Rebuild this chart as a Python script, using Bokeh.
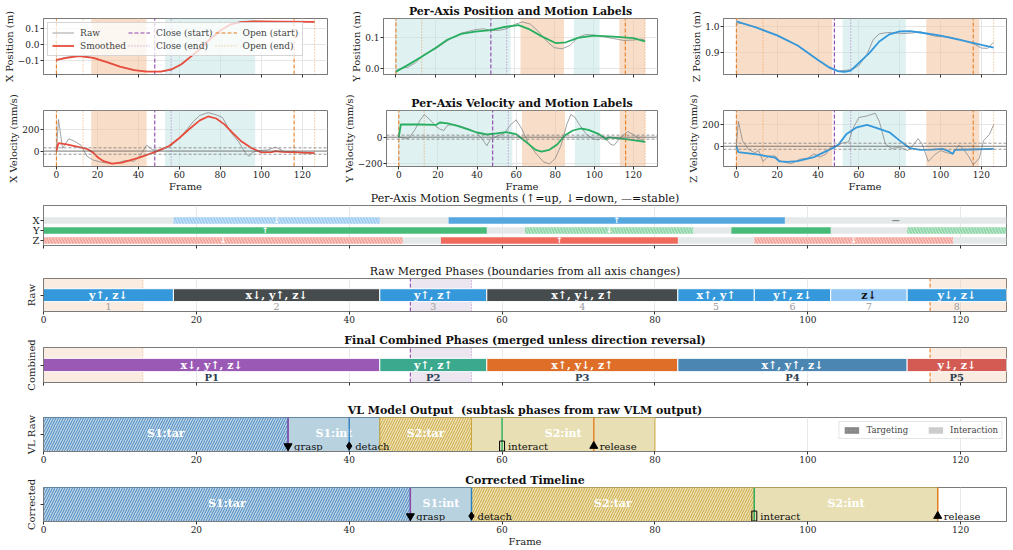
from bokeh.plotting import figure
from bokeh.layouts import column, row
from bokeh.models import (BoxAnnotation, Span, Legend, LegendItem, FixedTicker,
                          Range1d, ColumnDataSource, CustomJSTickFormatter)
from bokeh.core.properties import value
from bokeh.embed import file_html
from bokeh.resources import INLINE

FONT = "DejaVu Serif"

# ---------------- gripper events ----------------
EVENT_KIND = ["open", "close", "open"]
EVENT_START = [0, 48, 116]
EVENT_END = [13, 56, 126]

# ---------------- position traces ----------------
XPOS_SM_F = [0, 5, 11, 18, 25, 31, 38, 44, 51, 56, 61, 65, 70, 75, 80, 85, 90, 97, 111, 126]
XPOS_SM = [-0.098, -0.085, -0.074, -0.085, -0.113, -0.140, -0.162, -0.172, -0.172, -0.158,
           -0.125, -0.083, -0.030, 0.034, 0.089, 0.127, 0.142, 0.147, 0.145, 0.143]
XPOS_RAW_F = [0, 1, 4, 8, 12, 16, 20, 26, 32, 38, 44, 48, 52, 56, 60, 65, 70, 75, 80, 85, 90,
              96, 104, 112, 120, 126]
XPOS_RAW = [-0.100, -0.096, -0.082, -0.075, -0.071, -0.078, -0.092, -0.117, -0.145, -0.163,
            -0.170, -0.171, -0.170, -0.162, -0.135, -0.082, -0.026, 0.038, 0.092, 0.128, 0.144,
            0.148, 0.146, 0.145, 0.144, 0.143]

YPOS_SM_F = [0, 7, 13, 20, 26, 33, 40, 48, 54, 62, 67, 74, 81, 86, 92, 100, 110, 120, 126]
YPOS_SM = [-0.009, 0.016, 0.039, 0.067, 0.093, 0.112, 0.119, 0.124, 0.133, 0.140, 0.128, 0.103,
           0.082, 0.085, 0.099, 0.106, 0.103, 0.098, 0.088]
YPOS_RAW_F = [0, 3, 6, 10, 14, 20, 26, 33, 40, 44, 48, 52, 56, 60, 64, 68, 72, 76, 80, 84, 88,
              92, 96, 100, 105, 110, 115, 120, 124, 126]
YPOS_RAW = [-0.005, 0.003, 0.005, 0.020, 0.045, 0.064, 0.090, 0.114, 0.125, 0.128, 0.123, 0.123,
            0.128, 0.142, 0.150, 0.143, 0.120, 0.090, 0.068, 0.064, 0.075, 0.100, 0.110, 0.108,
            0.103, 0.097, 0.091, 0.092, 0.095, 0.092]

ZPOS_SM_F = [0, 10, 20, 30, 40, 45, 50, 53, 56, 60, 65, 70, 75, 80, 85, 90, 100, 110, 120, 126]
ZPOS_SM = [1.019, 0.995, 0.966, 0.928, 0.873, 0.847, 0.830, 0.828, 0.833, 0.862, 0.898, 0.943,
           0.970, 0.981, 0.982, 0.977, 0.965, 0.948, 0.930, 0.920]
ZPOS_RAW_F = [0, 1, 4, 10, 20, 30, 40, 46, 50, 54, 57, 60, 64, 67, 70, 74, 78, 82, 86, 90, 94,
              98, 104, 110, 116, 120, 123, 126]
ZPOS_RAW = [1.005, 1.012, 1.010, 0.997, 0.965, 0.927, 0.872, 0.840, 0.832, 0.834, 0.838, 0.852,
            0.895, 0.950, 0.972, 0.977, 0.975, 0.973, 0.975, 0.980, 0.970, 0.962, 0.960, 0.950,
            0.935, 0.918, 0.917, 0.940]

# ---------------- velocity traces (mm/s) ----------------
XVEL_SM_F = [0, 1, 5, 10, 15, 18, 20, 23, 27, 32, 40, 48, 55, 60, 65, 70, 74, 78, 82, 86, 90,
             95, 100, 105, 107, 110, 118, 126]
XVEL_SM = [0, 75, 62, 42, 20, -15, -55, -95, -118, -108, -65, -10, 47, 122, 209, 287, 324, 305,
           250, 170, 95, 30, -12, -10, 0, -8, -12, -20]
XVEL_RAW_F = [0, 1, 3, 6, 9, 12, 15, 18, 22, 28, 34, 38, 41, 44, 47, 51, 56, 60, 64, 67, 70, 74,
              78, 81, 85, 89, 92, 94, 96, 99, 103, 107, 111, 116, 121, 126]
XVEL_RAW = [0, 295, 25, 115, 90, 55, -50, -85, -105, -119, -88, -95, -40, 55, 12, 6, 50, 120,
            210, 280, 334, 360, 340, 315, 178, 84, -10, -50, -10, 5, 10, 37, -3, -10, -20, -20]

YVEL_SM_F = [0, 1, 10, 19, 21, 25, 30, 35, 40, 45, 50, 55, 60, 65, 70, 73, 77, 81, 85, 89, 93,
             97, 102, 105, 106, 107, 110, 118, 126]
YVEL_SM = [0, 95, 95, 92, 110, 103, 85, 60, 35, 20, 28, 38, 22, -35, -95, -108, -95, -55, 15,
           50, 65, 55, 25, -5, -18, -2, -5, -18, -35]
YVEL_RAW_F = [0, 2, 5, 8, 11, 13, 16, 19, 21, 23, 25, 28, 32, 36, 40, 43, 45, 47, 50, 54, 57,
              60, 63, 66, 70, 74, 77, 80, 83, 86, 88, 90, 93, 96, 99, 102, 105, 108, 110, 113,
              117, 120, 123, 126]
YVEL_RAW = [0, -5, -10, 50, 130, 170, 130, 80, 60, 50, 90, 95, 80, 60, 30, -20, -65, -10, 5, 30,
            90, 130, 60, -40, -120, -185, -200, -160, -60, 100, 170, 150, 80, 20, -10, -20, 5,
            -50, -62, -10, 42, 20, -10, -37]

ZVEL_SM_F = [0, 1, 10, 19, 21, 25, 30, 38, 44, 48, 50, 54, 59, 64, 70, 75, 80, 85, 90, 96, 101,
             104, 106, 107, 115, 126]
ZVEL_SM = [0, -55, -75, -105, -140, -145, -138, -100, -45, -10, 15, 114, 175, 197, 160, 129, 52,
           -18, -34, -31, -25, -45, -71, -34, -30, -25]
ZVEL_RAW_F = [0, 1, 3, 6, 9, 11, 13, 16, 19, 21, 24, 27, 31, 35, 38, 41, 44, 46, 49, 52, 55, 57,
              60, 64, 68, 70, 73, 76, 80, 84, 87, 89, 91, 94, 97, 100, 103, 106, 109, 111, 114,
              116, 119, 121, 124, 126]
ZVEL_RAW = [0, 230, 50, -30, -60, -40, -140, -90, -90, -130, -150, -160, -120, -110, -70, -100,
            -70, -10, 0, 30, 40, 160, 265, 280, 305, 230, 20, -20, -10, -40, 20, 70, 20, -140,
            -80, -40, -60, -70, 10, -20, -100, -170, -110, 50, 110, 200]

VEL_THRESH = [30, 15, 28]

# ---------------- per-axis motion segments ----------------
X_SEG_START = [0, 17, 44, 53, 97]
X_SEG_END = [17, 44, 53, 97, 126]
X_SEG_DIR = ["stable", "down", "stable", "up", "stable"]
Y_SEG_START = [0, 58, 63, 85, 90, 103, 113]
Y_SEG_END = [58, 63, 85, 90, 103, 113, 126]
Y_SEG_DIR = ["up", "stable", "down", "stable", "up", "stable", "down"]
Z_SEG_START = [0, 47, 52, 83, 93, 119]
Z_SEG_END = [47, 52, 83, 93, 119, 126]
Z_SEG_DIR = ["down", "stable", "up", "stable", "down", "stable"]
MIN_LABEL_LEN = 20

# ---------------- merged phases ----------------
RAW_START = [0, 17, 44, 58, 83, 93, 103, 113]
RAW_END = [17, 44, 58, 83, 93, 103, 113, 126]
RAW_LABEL = ["y↑, z↓", "x↓, y↑, z↓", "y↑, z↑", "x↑, y↓, z↑", "x↑, y↑", "y↑, z↓", "z↓", "y↓, z↓"]

FIN_START = [0, 44, 58, 83, 113]
FIN_END = [44, 58, 83, 113, 126]
FIN_LABEL = ["x↓, y↑, z↓", "y↑, z↑", "x↑, y↓, z↑", "x↑, y↑, z↓", "y↓, z↓"]
FIN_NAME = ["P1", "P2", "P3", "P4", "P5"]
FIN_COLOR = ["#9b59b6", "#3aa98e", "#de6e28", "#4a86b1", "#d45b53"]

# ---------------- VLM subtask phases ----------------
VL_START = [0, 32, 44, 56]
VL_END = [32, 44, 56, 80]
VL_LABEL = ["S1:tar", "S1:int", "S2:tar", "S2:int"]
VL_EVENT_F = [32, 40, 60, 72]
COR_START = [0, 48, 56, 93]
COR_END = [48, 56, 93, 117]
COR_EVENT_F = [48, 56, 93, 117]
EVENT_NAMES = ["grasp", "detach", "interact", "release"]

# ---------------- styling ----------------
OPEN_C = "#e67e22"
CLOSE_C = "#8e44ad"
UP_SHADE = "#bfe3e1"
DOWN_SHADE = "#f3c19a"
AX_C = "#7a7a7a"
FRAME_TICKS = [0, 20, 40, 60, 80, 100, 120]


def base_fig(width, height, xr, yr, left, right, top, bottom, title=None):
    p = figure(width=width, height=height, x_range=Range1d(*xr), y_range=Range1d(*yr),
               min_border_left=left, min_border_right=right, min_border_top=top,
               min_border_bottom=bottom, title=title, output_backend="svg",
               toolbar_location=None)
    p.outline_line_color = AX_C
    p.outline_line_width = 1
    for ax in p.axis:
        ax.axis_line_color = AX_C
        ax.major_tick_line_color = "#333333"
        ax.minor_tick_line_color = None
        ax.major_tick_out = 3
        ax.major_tick_in = 0
        ax.major_label_standoff = 1
        ax.axis_label_standoff = 0
        ax.major_label_text_font = FONT
        ax.major_label_text_font_size = "9px"
        ax.major_label_text_color = "#222222"
        ax.axis_label_text_font = FONT
        ax.axis_label_text_font_size = "10px"
        ax.axis_label_text_font_style = "normal"
        ax.axis_label_text_color = "#222222"
    p.xaxis.ticker = FixedTicker(ticks=FRAME_TICKS)
    p.xgrid.grid_line_color = "#e6e6e6"
    p.ygrid.grid_line_color = "#e6e6e6"
    if title:
        p.title.text_font = FONT
        p.title.text_font_size = "11px"
        p.title.text_color = "#111111"
        p.title.align = "center"
        p.title.standoff = 2
    return p


def hide_labels(axis):
    axis.major_label_text_color = None


def event_lines(p, y0, y1):
    rends = {}
    for kind, color in (("close", CLOSE_C), ("open", OPEN_C)):
        xs = [s for k, s in zip(EVENT_KIND, EVENT_START) if k == kind]
        xe = [e for k, e in zip(EVENT_KIND, EVENT_END) if k == kind]
        rends[(kind, "start")] = p.segment(x0=xs, x1=xs, y0=y0, y1=y1, line_color=color,
                                           line_dash="4 2", line_width=1.1)
        rends[(kind, "end")] = p.segment(x0=xe, x1=xe, y0=y0, y1=y1, line_color=color,
                                         line_dash="1 2", line_width=1.1, line_alpha=0.6)
    return rends


def motion_shading(p, starts, ends, dirs):
    for s, e, d in zip(starts, ends, dirs):
        if d == "stable":
            continue
        p.add_layout(BoxAnnotation(left=s, right=e, line_color=None, level="underlay",
                                   fill_color=UP_SHADE if d == "up" else DOWN_SHADE,
                                   fill_alpha=0.5 if d == "up" else 0.55))


def yfmt(decimals):
    return CustomJSTickFormatter(
        code="return (tick < 0 ? '\\u2212' : '') + Math.abs(tick).toFixed(%d);" % decimals)


def series_panel(width, height, left, right, top, bottom, yr, ylabel, yticks, decimals, segs,
                 raw_f, raw_v, sm_f, sm_v, color, title=None, xlabels=False, thresh=None,
                 legend=False):
    p = base_fig(width, height, (-6.3, 132.3), yr, left, right, top, bottom, title)
    p.yaxis.ticker = FixedTicker(ticks=yticks)
    p.yaxis.formatter = yfmt(decimals)
    p.yaxis.axis_label = ylabel
    if xlabels:
        p.xaxis.axis_label = "Frame"
    else:
        hide_labels(p.xaxis)
    motion_shading(p, *segs)
    if thresh is not None:
        p.add_layout(Span(location=0, dimension="width", line_color="#555555",
                          line_width=0.9, line_alpha=0.8))
        for t in (thresh, -thresh):
            p.add_layout(Span(location=t, dimension="width", line_color="#888888",
                              line_width=0.9, line_dash="3 2"))
    ev = event_lines(p, yr[0], yr[1])
    r_raw = p.line(raw_f, raw_v, line_color="#8c8c8c", line_width=0.9, line_alpha=0.9)
    r_sm = p.line(sm_f, sm_v, line_color=color, line_width=1.8)
    if legend:
        items = [LegendItem(label="Raw", renderers=[r_raw]),
                 LegendItem(label="Smoothed", renderers=[r_sm]),
                 LegendItem(label="Close (start)", renderers=[ev[("close", "start")]]),
                 LegendItem(label="Close (end)", renderers=[ev[("close", "end")]]),
                 LegendItem(label="Open (start)", renderers=[ev[("open", "start")]]),
                 LegendItem(label="Open (end)", renderers=[ev[("open", "end")]])]
        lg = Legend(items=items, location="top_left", ncols=3, orientation="vertical",
                    label_text_font=FONT, label_text_font_size="9px", label_height=11,
                    glyph_height=9, glyph_width=22, spacing=2, padding=4, margin=4,
                    label_standoff=6, background_fill_alpha=0.75,
                    border_line_color="#cccccc", border_line_alpha=0.8)
        p.add_layout(lg)
    return p


X_SEGS = (X_SEG_START, X_SEG_END, X_SEG_DIR)
Y_SEGS = (Y_SEG_START, Y_SEG_END, Y_SEG_DIR)
Z_SEGS = (Z_SEG_START, Z_SEG_END, Z_SEG_DIR)

fx = series_panel(340, 92, 43, 13, 18, 18, (-0.19, 0.165), "X Position (m)", [-0.1, 0.0, 0.1],
                  1, X_SEGS, XPOS_RAW_F, XPOS_RAW, XPOS_SM_F, XPOS_SM, "#e74c3c", legend=True)
fy = series_panel(330, 92, 43, 13, 18, 18, (-0.018, 0.161), "Y Position (m)", [0.0, 0.1], 1,
                  Y_SEGS, YPOS_RAW_F, YPOS_RAW, YPOS_SM_F, YPOS_SM, "#27ae60",
                  title="Per-Axis Position and Motion Labels")
fz = series_panel(343, 92, 53, 7, 18, 18, (0.818, 1.030), "Z Position (m)", [0.9, 1.0], 1,
                  Z_SEGS, ZPOS_RAW_F, ZPOS_RAW, ZPOS_SM_F, ZPOS_SM, "#3498db")

vx = series_panel(340, 102, 43, 13, 18, 28, (-145, 380), "X Velocity (mm/s)", [0, 200], 0,
                  X_SEGS, XVEL_RAW_F, XVEL_RAW, XVEL_SM_F, XVEL_SM, "#e74c3c", xlabels=True,
                  thresh=VEL_THRESH[0])
vy = series_panel(330, 102, 43, 13, 18, 28, (-220, 200), "Y Velocity (mm/s)", [-200, 0], 0,
                  Y_SEGS, YVEL_RAW_F, YVEL_RAW, YVEL_SM_F, YVEL_SM, "#27ae60", xlabels=True,
                  thresh=VEL_THRESH[1], title="Per-Axis Velocity and Motion Labels")
vz = series_panel(343, 102, 53, 7, 18, 28, (-187, 330), "Z Velocity (mm/s)", [0, 200], 0,
                  Z_SEGS, ZVEL_RAW_F, ZVEL_RAW, ZVEL_SM_F, ZVEL_SM, "#3498db", xlabels=True,
                  thresh=VEL_THRESH[2])
for p in (fy, vy):
    p.title.text_font_style = "bold"


def wide_fig(height, yr, top, bottom, title=None, bold=False, xlabels=True):
    p = base_fig(1013, height, (0, 126), yr, 43, 7, top, bottom, title)
    p.ygrid.grid_line_color = None
    p.xgrid.grid_line_color = "#e8e8e8"
    if title:
        p.title.text_font_style = "bold" if bold else "normal"
    if not xlabels:
        hide_labels(p.xaxis)
    return p


def band_axis(p, label):
    p.yaxis.ticker = FixedTicker(ticks=[0.5])
    hide_labels(p.yaxis)
    p.yaxis.axis_label = label
    p.yaxis.axis_label_standoff = 4


# ---------------- per-axis motion segments panel ----------------
# tucked up under the velocity row; its border is transparent so nothing is hidden
seg = wide_fig(73, (-0.5, 3.5), 17, 16, "Per-Axis Motion Segments (↑=up, ↓=down, —=stable)",
               xlabels=False)
seg.margin = (-6, 0, 0, 0)
seg.border_fill_alpha = 0
seg.yaxis.ticker = FixedTicker(ticks=[0, 1, 2])
seg.yaxis.major_label_overrides = {0: "Z", 1: "Y", 2: "X"}
seg.yaxis.major_label_text_font_size = "10px"

SEG_STYLE = {
    2: ("#56a6e0", "#9fcdf1"),
    1: ("#48bb78", "#8fd6a9"),
    0: ("#ef6a5b", "#f4a59b"),
}
BAR_H = 0.32
solid = dict(l=[], r=[], b=[], t=[], c=[])
hatched = dict(l=[], r=[], b=[], t=[], c=[])
flat = dict(l=[], r=[], b=[], t=[])
arrows = dict(x=[], y=[], t=[], c=[])
for yrow, (starts, ends, dirs) in ((2, X_SEGS), (1, Y_SEGS), (0, Z_SEGS)):
    c_up, c_down = SEG_STYLE[yrow]
    for s, e, d in zip(starts, ends, dirs):
        if d == "up":
            tgt, col = solid, c_up
        elif d == "down":
            tgt, col = hatched, c_down
        else:
            tgt, col = flat, None
        tgt["l"].append(s)
        tgt["r"].append(e)
        tgt["b"].append(yrow - BAR_H)
        tgt["t"].append(yrow + BAR_H)
        if col is not None:
            tgt["c"].append(col)
        if e - s >= MIN_LABEL_LEN:
            arrows["x"].append((s + e) / 2)
            arrows["y"].append(yrow)
            arrows["t"].append({"up": "↑", "down": "↓", "stable": "—"}[d])
            arrows["c"].append("#7f8c8d" if d == "stable" else "white")

seg.quad(left=flat["l"], right=flat["r"], bottom=flat["b"], top=flat["t"],
         fill_color="#e5e8e8", line_color=None)
seg.quad(left=solid["l"], right=solid["r"], bottom=solid["b"], top=solid["t"],
         fill_color=solid["c"], line_color=None)
seg.quad(left=hatched["l"], right=hatched["r"], bottom=hatched["b"], top=hatched["t"],
         fill_color=hatched["c"], line_color=None, hatch_pattern="\\", hatch_color="white",
         hatch_alpha=0.6, hatch_scale=6, hatch_weight=0.8)
seg.text(x=arrows["x"], y=arrows["y"], text=arrows["t"], text_color=arrows["c"],
         text_font=value("DejaVu Sans"), text_font_size="8px", text_font_style="bold",
         text_align="center", text_baseline="middle")


def event_background(p):
    for k, s, e in zip(EVENT_KIND, EVENT_START, EVENT_END):
        p.add_layout(BoxAnnotation(left=s, right=e, line_color=None, level="underlay",
                                   fill_color=DOWN_SHADE if k == "open" else "#c9b8d8",
                                   fill_alpha=0.3 if k == "open" else 0.35))
    event_lines(p, 0, 1)


# ---------------- raw merged phases ----------------
raw = wide_fig(69, (0, 1), 17, 19, "Raw Merged Phases (boundaries from all axis changes)")
band_axis(raw, "Raw")
event_background(raw)


def n_axes(lbl):
    return lbl.count(",") + 1


raw_colors = [{3: "#464b4e", 2: "#3498db", 1: "#8fc6f6"}[n_axes(l)] for l in RAW_LABEL]
raw_text_c = ["#111111" if n_axes(l) == 1 else "white" for l in RAW_LABEL]
raw_mid = [(s + e) / 2 for s, e in zip(RAW_START, RAW_END)]
raw.quad(left=RAW_START, right=RAW_END, bottom=0.3, top=0.69, fill_color=raw_colors,
         line_color="white", line_width=1)
raw.text(x=raw_mid, y=0.5, text=RAW_LABEL, text_color=raw_text_c, text_font=value(FONT),
         text_font_size="11px", text_font_style="bold", text_align="center",
         text_baseline="middle")
raw.text(x=raw_mid, y=0.15, text=[str(i + 1) for i in range(len(RAW_LABEL))],
         text_color="#999999", text_font=value(FONT), text_font_size="9.5px",
         text_align="center", text_baseline="middle")

# ---------------- final combined phases ----------------
fin = wide_fig(70, (0, 1), 17, 18, "Final Combined Phases (merged unless direction reversal)",
               bold=True, xlabels=False)
band_axis(fin, "Combined")
event_background(fin)
fin_mid = [(s + e) / 2 for s, e in zip(FIN_START, FIN_END)]
fin.quad(left=FIN_START, right=FIN_END, bottom=0.31, top=0.69, fill_color=FIN_COLOR,
         line_color="white", line_width=1)
fin.text(x=fin_mid, y=0.5, text=FIN_LABEL, text_color="white", text_font=value(FONT),
         text_font_size="11px", text_font_style="bold", text_align="center",
         text_baseline="middle")
fin.text(x=fin_mid, y=0.15, text=FIN_NAME, text_color="#2c3e50", text_font=value(FONT),
         text_font_size="10px", text_font_style="bold", text_align="center",
         text_baseline="middle")

# ---------------- subtask timelines ----------------
SUB_STYLE = {
    "S1:tar": dict(fill_color="#bcd5e5", line_color="#3f7fad", hatch_pattern="/",
                   hatch_color="#3a7dbd", hatch_scale=5, hatch_weight=0.9),
    "S1:int": dict(fill_color="#b8d2e0", line_color="#3f7fad"),
    "S2:tar": dict(fill_color="#ece2b6", line_color="#c9a53a", hatch_pattern="/",
                   hatch_color="#c9a132", hatch_scale=5, hatch_weight=0.9),
    "S2:int": dict(fill_color="#e8dfb4", line_color="#c9a53a"),
}
EVENT_LINE_C = ["#8e44ad", "#2e7fc0", "#27ae60", "#e67e22"]
EVENT_MARK = ["inverted_triangle", "diamond", None, "triangle"]


def subtask_panel(p, starts, ends, labels, events):
    for s, e, lbl in zip(starts, ends, labels):
        p.quad(left=[s], right=[e], bottom=0, top=1, line_width=1, **SUB_STYLE[lbl])
    mids = [(s + e) / 2 for s, e in zip(starts, ends)]
    p.text(x=mids, y=0.52, text=labels, text_color="white", text_font=value(FONT),
           text_font_size="11px", text_font_style="bold", text_align="center",
           text_baseline="middle")
    p.segment(x0=events, x1=events, y0=0, y1=1, line_color=EVENT_LINE_C, line_width=1.4)
    mx = [f for f, m in zip(events, EVENT_MARK) if m]
    mk = [m for m in EVENT_MARK if m]
    p.scatter(x=mx, y=0.16, marker=mk, size=8, fill_color="black", line_color="black")
    bx = [f for f, m in zip(events, EVENT_MARK) if not m]
    p.rect(x=bx, y=0.16, width=5, height=10, width_units="screen", height_units="screen",
           fill_color=None, line_color="black", line_width=1)
    p.text(x=events, y=0.16, text=EVENT_NAMES, x_offset=6, text_color="#111111",
           text_font=value(FONT), text_font_size="10px", text_align="left",
           text_baseline="middle")


vl = wide_fig(68, (0, 1), 17, 17,
              "VL Model Output \u00a0(subtask phases from raw VLM output)", bold=True)
band_axis(vl, "VL Raw")
subtask_panel(vl, VL_START, VL_END, VL_LABEL, VL_EVENT_F)

# legend swatches: zero-width boxes at the timeline origin, so only their key shows
swatch = ColumnDataSource(dict(l=[VL_START[0]], r=[VL_START[0]], b=[0], t=[0]))
leg_t = vl.quad(left="l", right="r", bottom="b", top="t", source=swatch,
                fill_color="#a8a8a8", line_color=None, hatch_pattern="/",
                hatch_color="#555555", hatch_scale=4, hatch_weight=0.8)
leg_i = vl.quad(left="l", right="r", bottom="b", top="t", source=swatch,
                fill_color="#cccccc", line_color=None)
vl.add_layout(Legend(items=[LegendItem(label="Targeting", renderers=[leg_t]),
                            LegendItem(label="Interaction", renderers=[leg_i])],
                     location="top_right", orientation="horizontal", label_text_font=FONT,
                     label_text_font_size="8.5px", label_height=9, glyph_height=8,
                     glyph_width=18, spacing=18, padding=3, margin=4, label_standoff=6,
                     border_line_color="#cccccc", background_fill_alpha=0.9))

cor = wide_fig(82, (0, 1), 19, 29, "Corrected Timeline", bold=True)
band_axis(cor, "Corrected")
cor.xaxis.axis_label = "Frame"
subtask_panel(cor, COR_START, COR_END, VL_LABEL, COR_EVENT_F)

layout = column(row(fx, fy, fz), row(vx, vy, vz), seg, raw, fin, vl, cor)

with open("out.html", "w") as fh:
    fh.write(file_html(layout, INLINE, title="Motion phase segmentation"))
